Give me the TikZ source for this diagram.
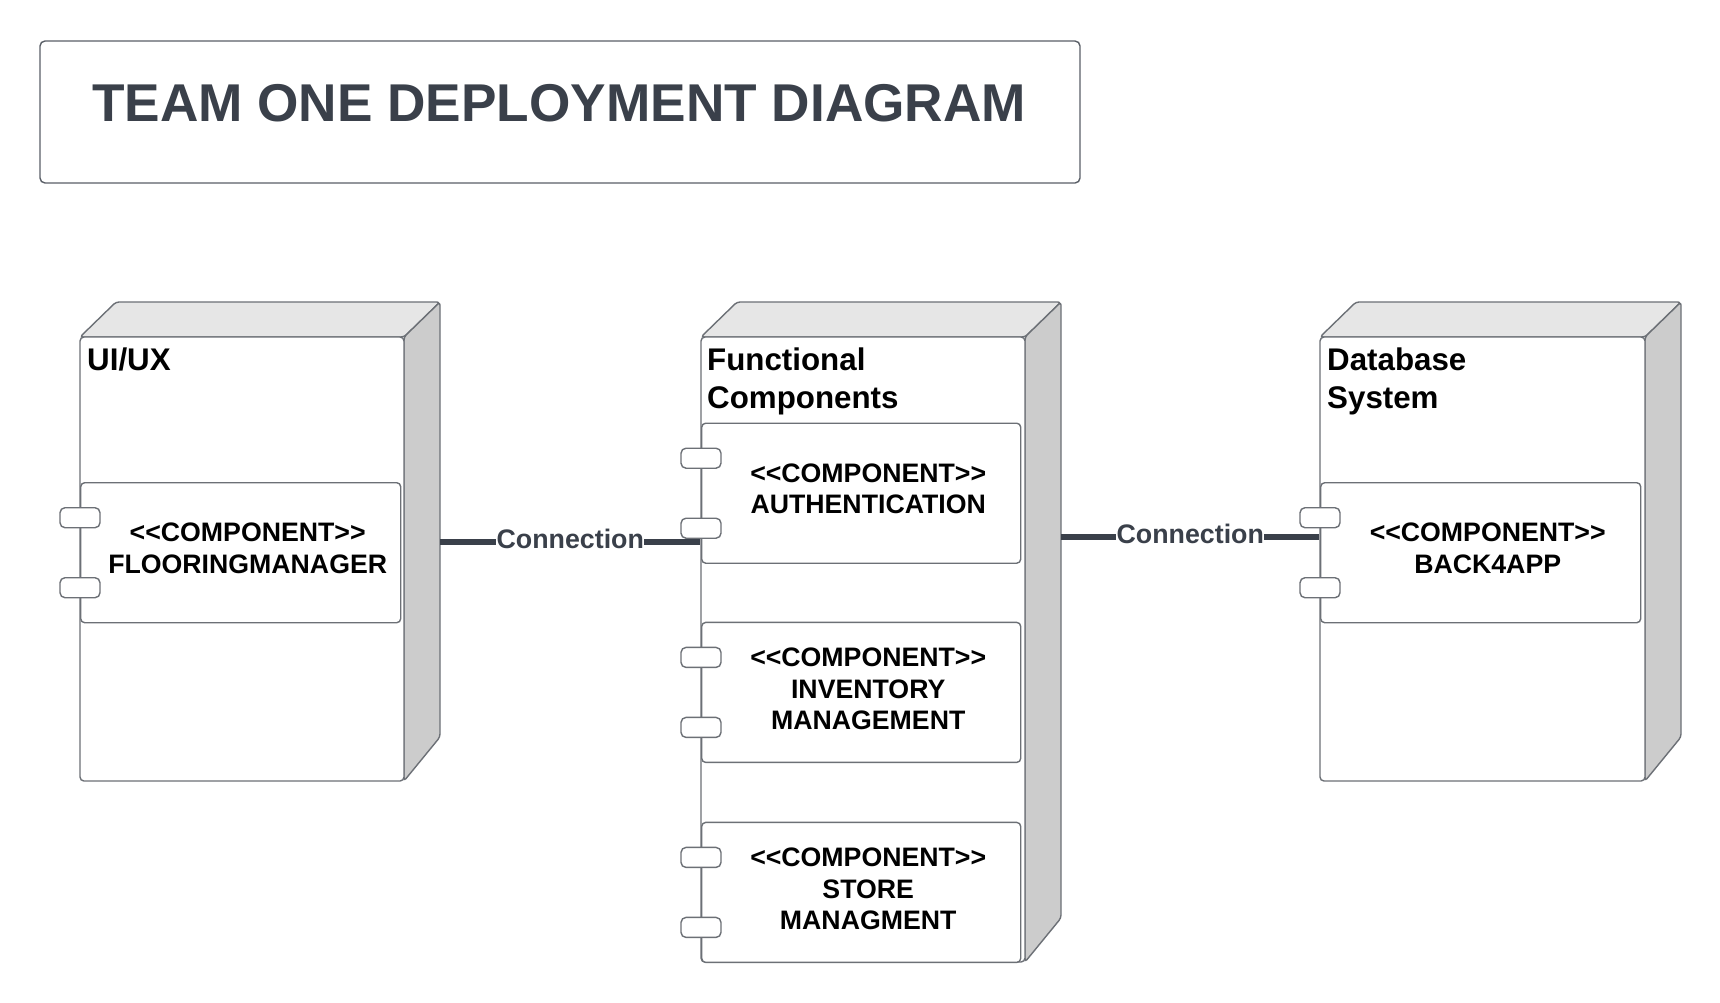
\documentclass[tikz,border=0pt]{standalone}
\usepackage{fontspec}
\setmainfont{Liberation Sans}
\usetikzlibrary{fit}
\definecolor{bord}{RGB}{108,112,118}
\definecolor{tbord}{RGB}{90,95,103}
\definecolor{topc}{RGB}{230,230,230}
\definecolor{sidec}{RGB}{204,204,204}
\definecolor{slate}{RGB}{58,64,74}
\tikzset{
  nodeface/.style={draw=bord, line width=1.4pt, rounded corners=3pt, line join=round},
  nodefront/.style={draw=bord, fill=white, line width=1.4pt, rounded corners=4pt, inner sep=0pt},
  compbox/.style={draw=bord, fill=white, line width=1.4pt, rounded corners=4pt, minimum width=320pt, minimum height=140pt, inner sep=0pt, anchor=north west},
  portbox/.style={draw=bord, fill=white, line width=1.4pt, rounded corners=5pt, minimum width=40pt, minimum height=20pt, inner sep=0pt},
  comptext/.style={font=\bfseries\fontsize{26.7}{31.5}\selectfont, align=center, inner sep=0pt, text=black},
  nodelabel/.style={font=\bfseries\fontsize{31.3}{37.5}\selectfont, align=left, inner sep=0pt, anchor=north west, text=black},
  conn/.style={draw=slate, line width=6pt},
  connlabel/.style={font=\bfseries\fontsize{26.8}{30}\selectfont, text=slate, fill=white, inner sep=0.5pt, yshift=3pt},
}
% name, x0, y0, x1, y1 (front face)
\newcommand\depnode[5]{%
  \filldraw[nodeface, fill=topc] (#2,#3) -- (#2+36,#3-35) -- (#4+36,#3-35) -- (#4,#3) -- cycle;
  \filldraw[nodeface, fill=sidec] (#4,#3) -- (#4+36,#3-35) -- (#4+36,#5-44) -- (#4,#5) -- cycle;
  \node[nodefront, fit={(#2,#3) (#4,#5)}] (#1) {};
  \node[inner sep=0pt, fit={(#2,#3-35) (#4+36,#5)}] (#1box) {};
}
\newcommand\comptxt{<\kern0pt<COMPONENT>\kern0pt>}
\begin{document}
\begin{tikzpicture}[x=1pt, y=-1pt]
\useasboundingbox (0,0) rectangle (1720,1002);
\fill[white] (0,0) rectangle (1720,1002);

% title
\node[draw=tbord, line width=1.4pt, rounded corners=5pt, inner sep=0pt, fit={(40,41) (1080,183)}] (titlebox) {};
\node[font=\bfseries\fontsize{53.2}{60}\selectfont, text=slate, anchor=base, inner sep=0pt] (title) at (559,121) {TEAM ONE DEPLOYMENT DIAGRAM};

% UI/UX node
\depnode{ui}{80}{337}{404}{781}
\node[nodelabel] (uilabel) at (87,348) {UI/UX};
\node[compbox] (flo) at (80,482) {};
\node[portbox] (flop1) at ([yshift=35pt]flo.west) {};
\node[portbox] (flop2) at ([yshift=-35pt]flo.west) {};
\node[comptext] (flotext) at ([xshift=7pt,yshift=4.5pt]flo.center) {\comptxt\\FLOORINGMANAGER};

% Functional components node
\depnode{func}{701}{337}{1025}{962}
\node[nodelabel] (funclabel) at (707,348) {Functional\\Components};
\node[compbox, minimum width=319pt] (auth) at (701,422.5) {};
\node[portbox] (authp1) at ([yshift=35pt]auth.west) {};
\node[portbox] (authp2) at ([yshift=-35pt]auth.west) {};
\node[comptext] (authtext) at ([xshift=7pt,yshift=4.5pt]auth.center) {\comptxt\\AUTHENTICATION};
\node[compbox, minimum width=319pt] (inv) at (701,621.7) {};
\node[portbox] (invp1) at ([yshift=35pt]inv.west) {};
\node[portbox] (invp2) at ([yshift=-35pt]inv.west) {};
\node[comptext] (invtext) at ([xshift=7pt,yshift=3.5pt]inv.center) {\comptxt\\INVENTORY\\MANAGEMENT};
\node[compbox, minimum width=319pt] (store) at (701,821.7) {};
\node[portbox] (storep1) at ([yshift=35pt]store.west) {};
\node[portbox] (storep2) at ([yshift=-35pt]store.west) {};
\node[comptext] (storetext) at ([xshift=7pt,yshift=3.5pt]store.center) {\comptxt\\STORE\\MANAGMENT};

% Database node
\depnode{db}{1320}{337}{1645}{781}
\node[nodelabel] (dblabel) at (1327,348) {Database\\System};
\node[compbox] (b4a) at (1320,482) {};
\node[portbox] (b4ap1) at ([yshift=35pt]b4a.west) {};
\node[portbox] (b4ap2) at ([yshift=-35pt]b4a.west) {};
\node[comptext] (b4atext) at ([xshift=7pt,yshift=4.5pt]b4a.center) {\comptxt\\BACK4APP};

% connectors
\draw[conn] (uibox.east) -- (uibox.east -| func.west)
  node[connlabel, midway] (c1label) {Connection};
\coordinate (j2) at (0,537.3);
\draw[conn] (funcbox.east |- j2) -- (db.west |- j2)
  node[connlabel, midway] (c2label) {Connection};
\end{tikzpicture}
\end{document}
